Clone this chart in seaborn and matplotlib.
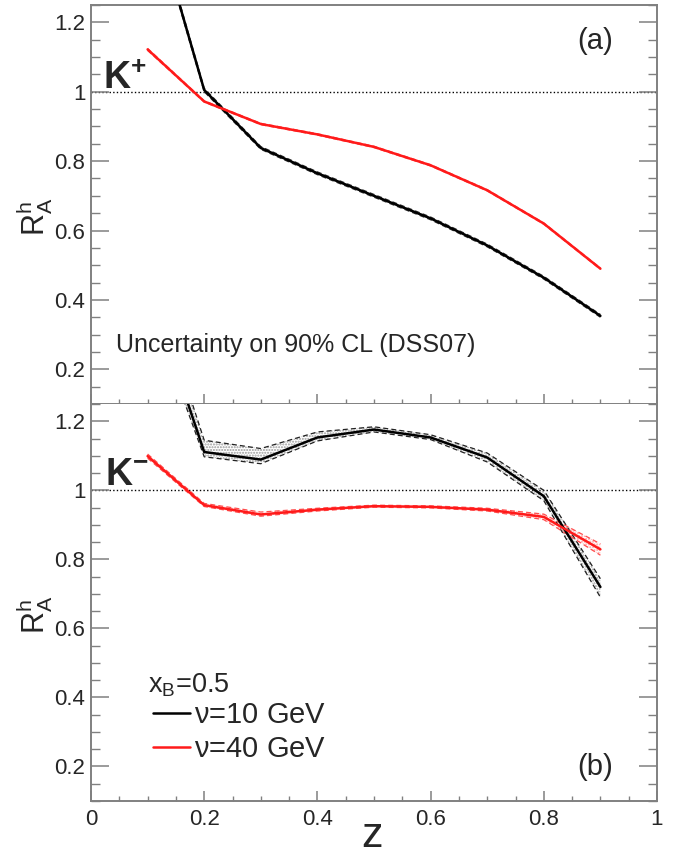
import numpy as np
import pandas as pd
import matplotlib
matplotlib.use("Agg")
import matplotlib.pyplot as plt
from matplotlib.ticker import MultipleLocator, FuncFormatter
import seaborn as sns

# ---------------- data ----------------
z = [0.1, 0.2, 0.3, 0.4, 0.5, 0.6, 0.7, 0.8, 0.9]

# K+ panel (a)
kp_nu10 = [1.57, 1.005, 0.838, 0.765, 0.700, 0.635, 0.557, 0.464, 0.354]
kp_nu10_lo = [1.56, 1.000, 0.834, 0.761, 0.696, 0.631, 0.553, 0.460, 0.350]
kp_nu10_hi = [1.58, 1.010, 0.842, 0.769, 0.704, 0.639, 0.561, 0.468, 0.358]
kp_nu40 = [1.122, 0.972, 0.907, 0.877, 0.841, 0.788, 0.716, 0.620, 0.490]
kp_nu40_lo = [1.119, 0.970, 0.905, 0.875, 0.839, 0.786, 0.714, 0.618, 0.488]
kp_nu40_hi = [1.125, 0.974, 0.909, 0.879, 0.843, 0.790, 0.718, 0.622, 0.492]

# K- panel (b)
km_nu10 = [1.60, 1.111, 1.089, 1.153, 1.176, 1.153, 1.095, 0.983, 0.720]
km_nu10_lo = [1.55, 1.097, 1.077, 1.143, 1.169, 1.147, 1.082, 0.970, 0.690]
km_nu10_hi = [1.65, 1.145, 1.121, 1.169, 1.184, 1.161, 1.108, 1.000, 0.744]
km_nu40 = [1.099, 0.957, 0.930, 0.944, 0.954, 0.952, 0.944, 0.923, 0.829]
km_nu40_lo = [1.093, 0.953, 0.925, 0.940, 0.951, 0.949, 0.940, 0.915, 0.812]
km_nu40_hi = [1.105, 0.962, 0.937, 0.948, 0.957, 0.955, 0.948, 0.931, 0.845]

series_labels = [r"$\nu$=10 GeV", r"$\nu$=40 GeV"]
x_ticks = [0, 0.2, 0.4, 0.6, 0.8, 1.0]
y_ticks = [0.2, 0.4, 0.6, 0.8, 1.0, 1.2]

# ---------------- style ----------------
sns.set_style("white")
plt.rcParams["font.family"] = ["Liberation Sans", "DejaVu Sans"]
plt.rcParams["mathtext.fontset"] = "custom"
plt.rcParams["mathtext.rm"] = "Liberation Sans"
plt.rcParams["mathtext.it"] = "Liberation Sans:italic"
plt.rcParams["mathtext.bf"] = "Liberation Sans:bold"
plt.rcParams["mathtext.default"] = "regular"

FRAME = "#808080"
W, H = 680, 858
fig = plt.figure(figsize=(W / 100, H / 100), dpi=100)
ax1 = fig.add_axes([91 / W, 1 - 404 / H, 566 / W, 399 / H])
ax2 = fig.add_axes([91 / W, 1 - 801 / H, 566 / W, 397 / H])


def draw_band(ax, lo, hi, color, fillc):
    ax.fill_between(z, lo, hi, facecolor="none", hatch="......",
                    edgecolor=fillc, linewidth=0, zorder=1)
    sns.lineplot(x=z, y=lo, ax=ax, color=color, lw=0.9,
                 linestyle=(0, (4, 2.5)), zorder=2)
    sns.lineplot(x=z, y=hi, ax=ax, color=color, lw=0.9,
                 linestyle=(0, (4, 2.5)), zorder=2)


def style_axes(ax, show_xlabels):
    ax.set_xlim(0, 1)
    ax.set_ylim(0.1, 1.25)
    for sp in ax.spines.values():
        sp.set_color(FRAME)
        sp.set_linewidth(1.4)
    if show_xlabels:
        ax.spines["top"].set_visible(False)
    ax.xaxis.set_major_locator(MultipleLocator(0.2))
    ax.xaxis.set_minor_locator(MultipleLocator(0.05))
    ax.set_yticks(y_ticks)
    ax.yaxis.set_minor_locator(MultipleLocator(0.05))
    fmt = FuncFormatter(lambda v, p: "%g" % round(v, 3))
    ax.xaxis.set_major_formatter(fmt)
    ax.yaxis.set_major_formatter(fmt)
    ax.tick_params(axis="y", which="major", direction="in", length=13,
                   width=1.1, color=FRAME, left=True, right=True,
                   labelsize=16, pad=4)
    ax.tick_params(axis="y", which="minor", direction="in", length=6.5,
                   width=1.0, color=FRAME, left=True, right=True)
    ax.tick_params(axis="x", which="major", direction="in", length=7.5,
                   width=1.1, color=FRAME, bottom=True, top=False,
                   labelbottom=show_xlabels, labelsize=16, pad=6)
    ax.tick_params(axis="x", which="minor", direction="in", length=3.8,
                   width=1.0, color=FRAME, bottom=True, top=False)
    ax.axhline(1.0, color="black", lw=1.0, ls=(0, (1, 1.6)), zorder=0)
    ax.set_ylabel(r"R$^{\mathregular{h}}_{\mathregular{A}}$", fontsize=22)
    ax.yaxis.set_label_coords(-0.1, 0.47)
    ax.yaxis.label.set_va("center")
    ax.set_xlabel("")


# panel (a): K+
draw_band(ax1, kp_nu10_lo, kp_nu10_hi, "#333333", "#888888")
draw_band(ax1, kp_nu40_lo, kp_nu40_hi, "#ff4d4d", "#ff9999")
sns.lineplot(x=z, y=kp_nu10, ax=ax1, color="black", lw=1.8, zorder=3)
sns.lineplot(x=z, y=kp_nu40, ax=ax1, color="#ff1a1a", lw=1.8, zorder=3)
style_axes(ax1, False)
ax1.text(0.022, 0.79, r"K$^{\mathbf{+}}$", transform=ax1.transAxes,
         fontsize=27, fontweight="bold", va="baseline")
ax1.text(0.922, 0.91, "(a)", transform=ax1.transAxes, fontsize=21,
         ha="right", va="center")
ax1.text(0.045, 0.148, "Uncertainty on 90% CL (DSS07)",
         transform=ax1.transAxes, fontsize=18, ha="left", va="center")

# panel (b): K-
draw_band(ax2, km_nu10_lo, km_nu10_hi, "#222222", "#999999")
draw_band(ax2, km_nu40_lo, km_nu40_hi, "#ff4d4d", "#ff9999")
sns.lineplot(x=z, y=km_nu10, ax=ax2, color="black", lw=1.8, zorder=3,
             label=series_labels[0])
sns.lineplot(x=z, y=km_nu40, ax=ax2, color="#ff1a1a", lw=1.8, zorder=3,
             label=series_labels[1])
style_axes(ax2, True)
ax2.set_xticks(x_ticks)
ax2.text(0.025, 0.795, r"K$^{\mathbf{-}}$", transform=ax2.transAxes,
         fontsize=27, fontweight="bold", va="baseline")
ax2.text(0.922, 0.085, "(b)", transform=ax2.transAxes, fontsize=21,
         ha="right", va="center")
ax2.set_xlabel("z", fontsize=31)
ax2.xaxis.set_label_coords(0.497, -0.088)
ax2.xaxis.label.set_va("center")

ax2.text(0.1, 0.292, r"x$_{\mathregular{B}}$=0.5", transform=ax2.transAxes,
         fontsize=19.5, ha="left", va="center")
handles, labels = ax2.get_legend_handles_labels()
handles = handles[-2:]
labels = labels[-2:]
leg = ax2.legend(handles, labels, loc="upper left",
                 bbox_to_anchor=(0.109, 0.252), frameon=False,
                 fontsize=21, handlelength=1.28, handletextpad=0.12,
                 labelspacing=0.2, borderaxespad=0, borderpad=0)

fig.savefig("out.png", dpi=100)
